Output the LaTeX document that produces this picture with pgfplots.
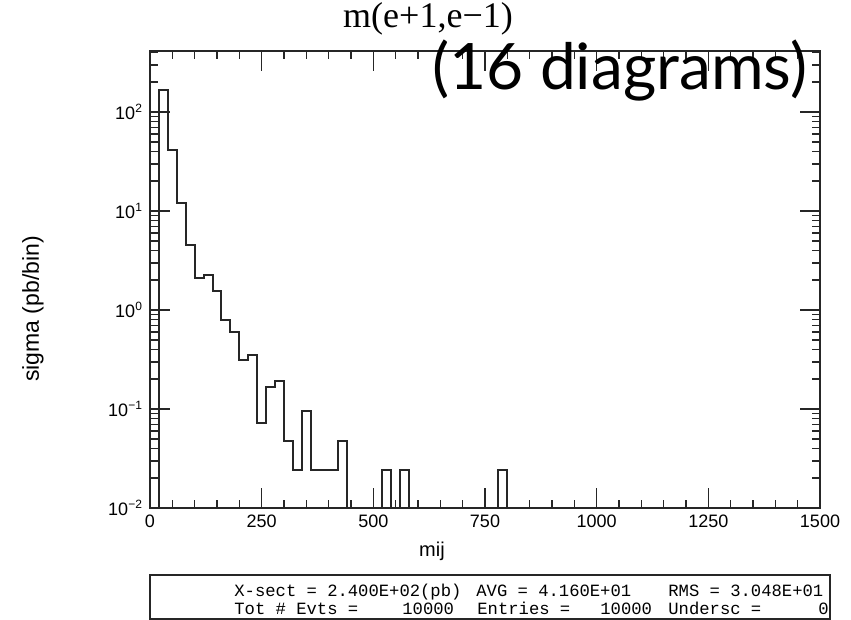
\documentclass[border=0pt]{standalone}
\usepackage{pgfplots}
\pgfplotsset{compat=1.18}
\usepackage{fontspec}
\setmainfont{Liberation Sans}
\newfontfamily\seriffont{Liberation Serif}
\newfontfamily\monofont{Liberation Mono}
\newfontfamily\bigfont{Lato}
\begin{document}
\begin{tikzpicture}[x=0.5pt,y=-0.5pt]
\path[use as bounding box] (0,0) rectangle (851,620);
\begin{axis}[
  at={(75pt,-254pt)}, anchor=south west,
  width=335pt, height=228.5pt, scale only axis,
  xmin=0, xmax=1500, ymode=log, ymin=0.01, ymax=413,
  xtick={0,250,500,750,1000,1250,1500}, minor x tick num=4,
  ytick={0.01,0.1,1,10,100},
  yticklabels={10\textsuperscript{−2},10\textsuperscript{−1},10\textsuperscript{0},10\textsuperscript{1},10\textsuperscript{2}},
  minor ytick={0.02,0.03,0.04,0.05,0.06,0.07,0.08,0.09,0.2,0.3,0.4,0.5,0.6,0.7,0.8,0.9,2,3,4,5,6,7,8,9,20,30,40,50,60,70,80,90,200,300,400},
  tick align=inside, major tick length=10pt, minor tick length=4pt,
  axis line style={line width=1pt, black!85},
  every tick/.style={black!85, line width=0.8pt},
  tick label style={font=\fontsize{9}{9}\selectfont},
  /pgf/number format/assume math mode=true,
  /pgf/number format/1000 sep={},
  scaled ticks=false,
]
\addplot[const plot, black!85, line width=1pt] coordinates {
(0,0.01) (20,168) (40,41) (60,12) (80,4.5) (100,2.1) (120,2.26) (140,1.55)
(160,0.8) (180,0.6) (200,0.31) (220,0.35) (240,0.072) (260,0.168) (280,0.19)
(300,0.048) (320,0.024) (340,0.096) (360,0.024) (380,0.024) (400,0.024)
(420,0.048) (440,0.01) (520,0.024) (540,0.01) (560,0.024) (580,0.01)
(780,0.024) (800,0.01) (1500,0.01)
};
\end{axis}
% title
\node[font=\seriffont\fontsize{18}{18}\selectfont] at (428,19) {m(e+1,e−1)};
% overlay label
\node[anchor=base west, inner sep=0, font=\bigfont\fontsize{32}{32}\selectfont] at (432,90) {(16 diagrams)};
% axis labels
\node[rotate=90, font=\fontsize{11.5}{11.5}\selectfont] at (33,309) {sigma (pb/bin)};
\node[font=\fontsize{10}{10}\selectfont] at (432,551) {mij};
% info box
\draw[line width=0.8pt, black!85] (150,575) rectangle (830,619);
\begin{scope}[every node/.style={anchor=base west, inner sep=0, font=\monofont\fontsize{8.6}{8.6}\selectfont}]
\node at (234,596) {X-sect = 2.400E+02(pb)};
\node at (476,596) {AVG = 4.160E+01};
\node at (668,596) {RMS = 3.048E+01};
\node at (234,614) {Tot \# Evts =};
\node at (402,614) {10000};
\node at (477,614) {Entries =};
\node at (600,614) {10000};
\node at (668,614) {Undersc =};
\node[anchor=base east] at (829,614) {0};
\end{scope}
\end{tikzpicture}
\end{document}
